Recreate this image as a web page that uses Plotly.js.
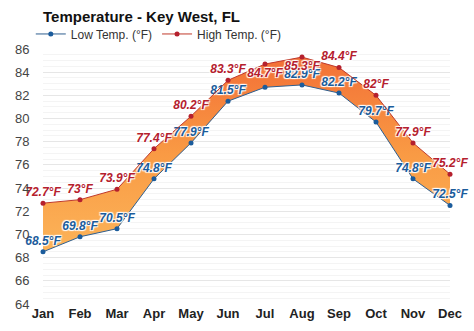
<!DOCTYPE html>
<html>
<head>
<meta charset="utf-8">
<script src="https://cdn.plot.ly/plotly-3.0.1.min.js"></script>
<style>html,body{margin:0;padding:0;background:#fff;}#chart{width:474px;height:331px;}</style>
</head>
<body>
<div id="chart"></div>
<script>
const months = ["Jan","Feb","Mar","Apr","May","Jun","Jul","Aug","Sep","Oct","Nov","Dec"];
const lowTemps = [68.5, 69.8, 70.5, 74.8, 77.9, 81.5, 82.7, 82.9, 82.2, 79.7, 74.8, 72.5];
const highTemps = [72.7, 73, 73.9, 77.4, 80.2, 83.3, 84.7, 85.3, 84.4, 82, 77.9, 75.2];
const yTicks = [64, 66, 68, 70, 72, 74, 76, 78, 80, 82, 84, 86];

const fmt = v => v + "°F";
const labelFont = (c) => ({family: "Arial, Liberation Sans, sans-serif", size: 12, color: c, style: "italic", weight: 700, shadow: "1px 1px 1px #fff, -1px -1px 1px #fff, 1px -1px 1px #fff, -1px 1px 1px #fff"});

// the reference hides the July low label (covered by the high labels)
const lowText = lowTemps.map((v, i) => months[i] === "Jul" ? "" : fmt(v));
const highPos = months.map(m => (m === "Jul" || m === "Aug") ? "bottom center" : "top center");

const low = {
  x: months, y: lowTemps, type: "scatter", mode: "lines+markers+text",
  name: "Low Temp. (°F)",
  line: {color: "#2f5f8f", width: 1},
  marker: {color: "#1b5c9c", size: 5},
  text: lowText, textposition: "top center",
  textfont: labelFont("#1b5c9c"), cliponaxis: false
};
const band = {
  x: months, y: highTemps, type: "scatter", mode: "none",
  fill: "tonexty", fillcolor: "rgb(249,155,66)",
  fillgradient: {type: "vertical", start: 68, stop: 86,
    colorscale: [[0, "#fcb55a"], [0.5, "#f99a44"], [1, "#f26c35"]]},
  showlegend: false, hoverinfo: "skip"
};
const high = {
  x: months, y: highTemps, type: "scatter", mode: "lines+markers+text",
  name: "High Temp. (°F)",
  line: {color: "#c0392b", width: 1},
  marker: {color: "#b5202e", size: 5},
  text: highTemps.map(fmt), textposition: highPos,
  textfont: labelFont("#b5202e"), cliponaxis: false
};

const layout = {
  width: 474, height: 331,
  margin: {l: 43, r: 24, t: 49, b: 27, autoexpand: false},
  paper_bgcolor: "#fff", plot_bgcolor: "#fff",
  font: {family: "Arial, Liberation Sans, sans-serif", color: "#333"},
  title: {text: "<b>Temperature - Key West, FL</b>", font: {size: 15, color: "#111"}, x: 43/474, xref: "container", xanchor: "left", y: 1 - 17/331, yanchor: "middle"},
  showlegend: true,
  legend: {orientation: "h", x: -0.03, xanchor: "left", y: 1.059, yanchor: "middle", bgcolor: "rgba(0,0,0,0)", font: {size: 12, color: "#333"}, traceorder: "normal", itemwidth: 30},
  xaxis: {
    type: "category", range: [0, 11], showgrid: false, zeroline: false, showline: false,
    ticks: "", tickfont: {size: 13, color: "#222", weight: 700}, fixedrange: true
  },
  yaxis: {
    range: [64, 86], tickvals: yTicks, ticktext: yTicks.map(String),
    showgrid: true, gridcolor: "#e6e6e6", gridwidth: 1, zeroline: false, showline: false,
    minor: {dtick: 0.5, showgrid: true, gridcolor: "#f4f4f4"},
    ticks: "outside", ticklen: 10, tickcolor: "rgba(0,0,0,0)",
    tickfont: {size: 13, color: "#444"}, fixedrange: true
  }
};

Plotly.newPlot("chart", [low, band, high], layout, {displayModeBar: false, staticPlot: true});
</script>
</body>
</html>
